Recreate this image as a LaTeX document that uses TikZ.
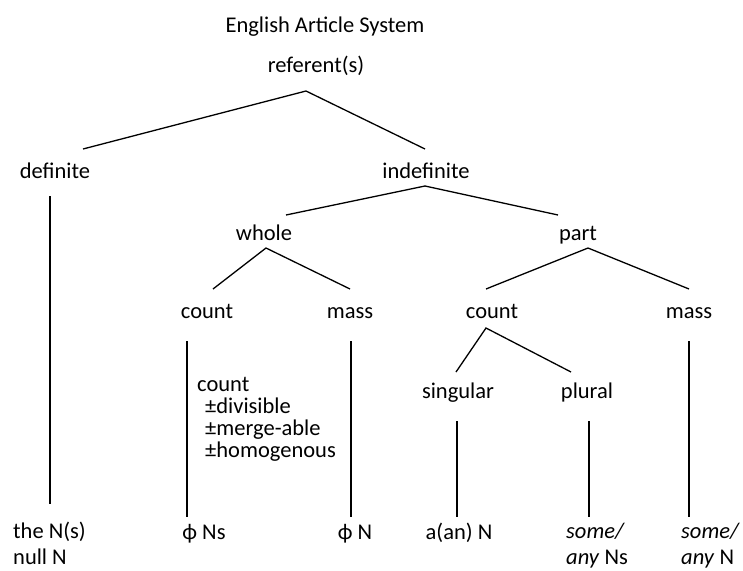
\documentclass[tikz,border=0pt]{standalone}
\usepackage{fontspec}
\setmainfont{Carlito}
\usetikzlibrary{calc}
\tikzset{
  node-label/.style={inner sep=0pt,anchor=base,
    font=\fontsize{22.5}{26}\selectfont},
  node-leaf/.style={node-label,align=left,anchor=base west},
  node-feat/.style={node-label,align=left,anchor=base west,
    font=\fontsize{22.5}{22}\selectfont},
  branch/.style={line width=1.3pt,draw=black},
}

\begin{document}
\begin{tikzpicture}[x=1pt,y=-1pt]
  \useasboundingbox (0,0) rectangle (743,570);
  % tree labels
  \node[node-label] (title) at (325,32) {English Article System};
  \node[node-label] (ref) at (316,72) {referent(s)};
  \node[node-label] (def) at (55,178) {definite};
  \node[node-label] (indef) at (426,178) {indefinite};
  \node[node-label] (whole) at (264,240) {whole};
  \node[node-label] (part) at (578,240) {part};
  \node[node-label] (wcount) at (207,318) {count};
  \node[node-label] (wmass) at (350,318) {mass};
  \node[node-label] (pcount) at (492,318) {count};
  \node[node-label] (pmass) at (689,318) {mass};
  \node[node-label] (sing) at (458,398) {singular};
  \node[node-label] (plur) at (587,398) {plural};
  % base of a multi-line node = its last line
  \node[node-feat] (feat) at (197,457)
    {count\\\hspace*{8pt}±divisible\\\hspace*{8pt}±merge-able\\\hspace*{8pt}±homogenous};
  % leaves
  \node[node-leaf] (the) at (13,564) {the N(s)\\null N};
  \node[node-label] (phins) at (204,539) {ϕ Ns};
  \node[node-label] (phin) at (355,539) {ϕ N};
  \node[node-label] (aan) at (459,539) {a(an) N};
  \node[node-leaf] (someNs) at (566,564) {\textit{some/}\\\textit{any} Ns};
  \node[node-leaf] (someN) at (681,564) {\textit{some/}\\\textit{any} N};
  % branches
  \draw[branch] ($(def.base)+(28,-29)$) -- ($(ref.base)+(-10,19)$)
    -- ($(indef.base)+(-1,-29)$);
  \draw[branch] ($(whole.base)+(22,-25)$) -- ($(indef.base)+(-1,8)$)
    -- ($(part.base)+(-20,-25)$);
  \draw[branch] ($(wcount.base)+(6,-29)$) -- ($(whole.base)+(2,8)$)
    -- ($(wmass.base)+(0,-29)$);
  \draw[branch] ($(pcount.base)+(-6,-29)$) -- ($(part.base)+(10,8)$)
    -- ($(pmass.base)+(0,-29)$);
  \draw[branch] ($(sing.base)+(-2,-26)$) -- ($(pcount.base)+(-6,10)$)
    -- ($(plur.base)+(-16,-26)$);
  % verticals
  \draw[branch] ($(def.base)+(-5,18)$) -- ($(the.base west)+(37,-60)$);
  \draw[branch] ($(wcount.base)+(-20,23)$) -- ($(phins.base)+(-17,-22)$);
  \draw[branch] ($(wmass.base)+(1,23)$) -- ($(phin.base)+(-4,-22)$);
  \draw[branch] ($(sing.base)+(-1,23)$) -- ($(aan.base)+(-2,-22)$);
  \draw[branch] ($(plur.base)+(2,23)$) -- ($(someNs.base west)+(23,-47)$);
  \draw[branch] ($(pmass.base)+(0,23)$) -- ($(someN.base west)+(8,-47)$);
\end{tikzpicture}
\end{document}
